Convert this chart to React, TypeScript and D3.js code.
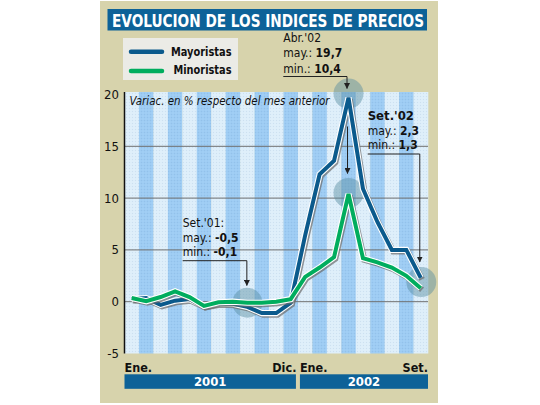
import React from 'react';
import * as d3 from 'd3';

// Monthly price variation (% vs previous month), Jan 2001 – Sep 2002
const months = [
  '2001-01', '2001-02', '2001-03', '2001-04', '2001-05', '2001-06',
  '2001-07', '2001-08', '2001-09', '2001-10', '2001-11', '2001-12',
  '2002-01', '2002-02', '2002-03', '2002-04', '2002-05', '2002-06',
  '2002-07', '2002-08', '2002-09',
];
const mayoristas = [
  0.25, 0.35, -0.3, 0.1, 0.25, -0.4, -0.15, -0.2, -0.5, -1.1, -1.1, -0.1,
  6.4, 12.3, 13.6, 19.7, 10.9, 7.7, 5.0, 5.0, 2.3,
];
const minoristas = [
  0.35, 0.05, 0.45, 1.0, 0.45, -0.4, -0.05, 0.0, -0.1, -0.1, 0.0, 0.25,
  2.4, 3.3, 4.3, 10.4, 4.2, 3.8, 3.3, 2.5, 1.3,
];
const yTicks = [20, 15, 10, 5, 0, -5];
const gridTicks = [15, 10, 5, 0];
const years = ['2001', '2002'];
const monthLabels = ['Ene.', 'Dic.', 'Ene.', 'Set.'];

const BLUE = '#0b5a8c';
const GREEN = '#00ad5e';
const BEIGE = '#d7d3ac';
const BAR = '#0d6298';
const FONT = '"DejaVu Sans Condensed", "DejaVu Sans", Verdana, sans-serif';

export default function App() {
  const x = d3.scaleBand<number>().domain(d3.range(months.length)).range([124.5, 428]).padding(0);
  const y = d3.scaleLinear().domain([-5, 20]).range([353.5, 94.5]);
  const cx = (i: number) => (x(i) as number) + x.bandwidth() / 2;

  const line = d3
    .line<number>()
    .x((_, i) => cx(i))
    .y((d) => y(d));

  const plotTop = y(20) - 2.5;
  const plotBottom = y(-5);
  const idxSet01 = 8;
  const idxAbr02 = 15;
  const idxSet02 = 20;

  const drawSeries = (vals: number[], color: string) => {
    const d = line(vals) as string;
    return (
      <g>
        <path d={d} fill="none" stroke="#6b6b6b" strokeOpacity={0.7} strokeWidth={6} strokeLinejoin="miter" transform="translate(1.3,1.6)" />
        <path d={d} fill="none" stroke="#ffffff" strokeWidth={6.2} strokeLinejoin="miter" />
        <path d={d} fill="none" stroke={color} strokeWidth={4} strokeLinejoin="miter" />
      </g>
    );
  };

  const circleFill = 'rgba(86,140,160,0.45)';
  const yearBars = [
    { label: years[0], x0: x(0) as number, x1: (x(11) as number) + x.bandwidth() - 2 },
    { label: years[1], x0: (x(12) as number) + 2, x1: (x(20) as number) + x.bandwidth() },
  ];

  return (
    <svg width={540} height={405} style={{ position: 'absolute', left: 0, top: 0 }}>
      <defs>
        <marker id="arrow" viewBox="0 0 6 6" refX={5.5} refY={3} markerWidth={6} markerHeight={6} orient="auto">
          <path d="M0,0 L6,3 L0,6 Z" fill="#222" />
        </marker>
        <pattern id="stipple" width={3} height={3} patternUnits="userSpaceOnUse">
          <rect x={0} y={0} width={1} height={1} fill="#5a7fa8" fillOpacity={0.12} />
          <rect x={1.5} y={1.5} width={1} height={1} fill="#ffffff" fillOpacity={0.2} />
        </pattern>
      </defs>

      <rect x={0} y={0} width={540} height={405} fill="#ffffff" />
      <rect x={100} y={1} width={338} height={402} fill={BEIGE} />

      {/* title */}
      <rect x={107.5} y={9} width={319.5} height={21.5} fill={BAR} />
      <text x={112} y={26.8} fill="#fff" fontFamily={FONT} fontWeight="bold" fontSize={18.5} textLength={312} lengthAdjust="spacingAndGlyphs">
        EVOLUCION DE LOS INDICES DE PRECIOS
      </text>

      {/* legend */}
      <rect x={123} y={38} width={115} height={42} fill="#ebebe6" />
      <line x1={131} x2={162} y1={51.7} y2={51.7} stroke={BLUE} strokeWidth={4.5} strokeLinecap="round" />
      <line x1={131} x2={162} y1={71} y2={71} stroke={GREEN} strokeWidth={4.5} strokeLinecap="round" />
      <text x={171} y={56} fontFamily={FONT} fontWeight="bold" fontSize={12.5} fill="#111" textLength={60.5} lengthAdjust="spacingAndGlyphs">Mayoristas</text>
      <text x={173.5} y={74} fontFamily={FONT} fontWeight="bold" fontSize={12.5} fill="#111" textLength={58} lengthAdjust="spacingAndGlyphs">Minoristas</text>

      {/* plot stripes */}
      {months.map((m, i) => (
        <rect key={m} x={x(i)} y={plotTop} width={x.bandwidth() + 0.3} height={plotBottom - plotTop} fill={i % 2 === 0 ? '#ddeefa' : '#9ccbf3'} />
      ))}
      <rect x={x(0)} y={plotTop} width={428 - 124.5} height={plotBottom - plotTop} fill="url(#stipple)" />

      {/* gridlines */}
      {gridTicks.map((t) => (
        <line key={t} x1={124.5} x2={428} y1={y(t)} y2={y(t)} stroke="#6e6e6e" strokeWidth={1} />
      ))}
      <line x1={124.5} x2={124.5} y1={plotTop} y2={plotBottom} stroke="#111" strokeWidth={1.5} />

      {/* y tick labels */}
      {yTicks.map((t) => (
        <text key={t} x={119} y={y(t) + 4.5} textAnchor="end" fontFamily={FONT} fontSize={13} fill="#111">
          {t}
        </text>
      ))}

      <text x={129.5} y={105} fontFamily={FONT} fontStyle="italic" fontSize={12.5} fill="#111" textLength={200} lengthAdjust="spacingAndGlyphs">
        Variac. en % respecto del mes anterior
      </text>

      {/* highlight circles */}
      <circle cx={cx(idxAbr02)} cy={y(mayoristas[idxAbr02]) - 4} r={15} fill={circleFill} />
      <circle cx={cx(idxAbr02)} cy={y(minoristas[idxAbr02]) - 1} r={15} fill={circleFill} />
      <circle cx={cx(idxSet01)} cy={y(-0.1)} r={15} fill={circleFill} />
      <circle cx={cx(idxSet02) + 0.5} cy={y((mayoristas[idxSet02] + minoristas[idxSet02]) / 2) - 1} r={15} fill={circleFill} />

      {/* series */}
      {drawSeries(mayoristas, BLUE)}
      {drawSeries(minoristas, GREEN)}

      {/* Abr.'02 note */}
      <g fontFamily={FONT} fontSize={12} fill="#111">
        <text x={283.3} y={41.5}>Abr.'02</text>
        <text x={283.3} y={57}>may.: <tspan fontWeight="bold">19,7</tspan></text>
        <text x={283.3} y={72.5}>min.: <tspan fontWeight="bold">10,4</tspan></text>
      </g>
      <polyline points={`283.3,76.5 ${cx(idxAbr02) - 1.5},76.5 ${cx(idxAbr02) - 1.5},88.5`} fill="none" stroke="#222" strokeWidth={1} markerEnd="url(#arrow)" />
      <line x1={cx(idxAbr02) - 1} x2={cx(idxAbr02) - 1} y1={126.5} y2={173.5} stroke="#222" strokeWidth={1} markerEnd="url(#arrow)" />

      {/* Set.'02 note */}
      <g fontFamily={FONT} fontSize={12} fill="#111">
        <text x={367.7} y={120} fontWeight="bold" fontSize={13}>Set.'02</text>
        <text x={367.7} y={134.5}>may.: <tspan fontWeight="bold">2,3</tspan></text>
        <text x={367.7} y={148.5}>min.: <tspan fontWeight="bold">1,3</tspan></text>
      </g>
      <polyline points={`367.7,154 ${cx(idxSet02) - 1},154 ${cx(idxSet02) - 1},262`} fill="none" stroke="#222" strokeWidth={1} markerEnd="url(#arrow)" />

      {/* Set.'01 note */}
      <g fontFamily={FONT} fontSize={12} fill="#111">
        <text x={182.7} y={227.3}>Set.'01:</text>
        <text x={182.7} y={241.7}>may.: <tspan fontWeight="bold">-0,5</tspan></text>
        <text x={182.7} y={255.5}>min.: <tspan fontWeight="bold">-0,1</tspan></text>
      </g>
      <polyline points={`182.7,260.7 ${cx(idxSet01) - 0.5},260.7 ${cx(idxSet01) - 0.5},285.5`} fill="none" stroke="#222" strokeWidth={1} markerEnd="url(#arrow)" />

      {/* month labels */}
      <g fontFamily={FONT} fontWeight="bold" fontSize={12.5} fill="#111">
        <text x={x(0)} y={372.3}>{monthLabels[0]}</text>
        <text x={(x(11) as number) + x.bandwidth() - 1.5} y={372.3} textAnchor="end">{monthLabels[1]}</text>
        <text x={(x(12) as number) + 2} y={372.3}>{monthLabels[2]}</text>
        <text x={(x(20) as number) + x.bandwidth()} y={372.3} textAnchor="end">{monthLabels[3]}</text>
      </g>

      {/* year bars */}
      {yearBars.map((b) => (
        <g key={b.label}>
          <rect x={b.x0} y={374.3} width={b.x1 - b.x0} height={14.5} fill={BAR} />
          <text x={(b.x0 + b.x1) / 2} y={386.2} textAnchor="middle" fontFamily={FONT} fontWeight="bold" fontSize={13} fill="#fff">
            {b.label}
          </text>
        </g>
      ))}
    </svg>
  );
}
